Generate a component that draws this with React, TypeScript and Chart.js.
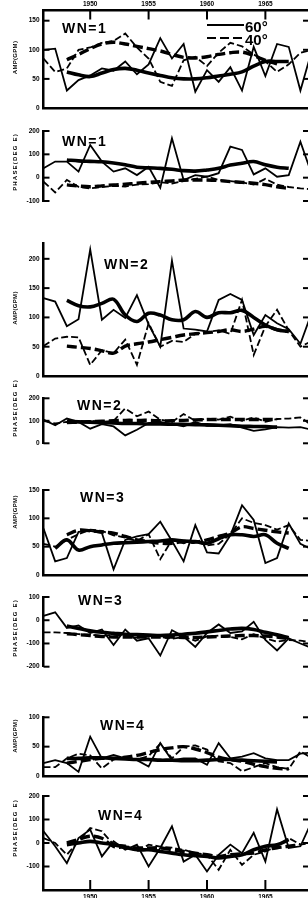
import React, { useEffect, useRef } from 'react';
import { Chart, registerables } from 'chart.js';
Chart.register(...registerables);

// ---------------- data ----------------
const years = [1946, 1947, 1948, 1949, 1950, 1951, 1952, 1953, 1954, 1955, 1956, 1957, 1958, 1959, 1960, 1961, 1962, 1963, 1964, 1965, 1966, 1967, 1968, 1969];
const yearTicks = [1950, 1955, 1960, 1965];
const N = null;

// WN=1 amplitude (gpm)
const amp1_60 = [100, 102, 30, 48, 56, 68, 64, 80, 58, 75, 120, 85, 110, 28, 65, 45, 70, 30, 105, 55, 110, 105, 30, 100];
const amp1_60s = [N, N, 62, 57, 54, 60, 66, 68, 65, 60, 56, 52, 50, 50, 52, 55, 58, 62, 72, 80, 80, 80, N, N];
const amp1_40 = [85, 62, 68, 100, 104, 112, 115, 128, 104, 85, 45, 38, 82, 88, 72, 95, 112, 106, 92, 80, 62, 75, 95, 100];
const amp1_40s = [N, N, 83, 92, 102, 110, 113, 110, 106, 102, 98, 92, 87, 86, 88, 92, 95, 96, 90, 82, 76, N, N, N];
// WN=1 phase
const ph1_60 = [40, 69, 69, 26, 140, 69, 26, 40, 11, 47, -43, 169, -10, 11, 4, 19, 133, 119, 14, 40, 4, 11, 154, 10];
const ph1_60s = [N, N, 76, 72, 70, 68, 63, 55, 45, 42, 40, 36, 30, 28, 33, 40, 54, 62, 69, 55, 45, 40, N, N];
const ph1_40 = [-17, -63, -10, -39, -46, -40, -35, -38, -30, -28, -20, -25, -15, -5, 5, -10, -15, -20, -30, -5, -30, -40, -46, -50];
const ph1_40s = [N, N, -31, -36, -39, -35, -31, -28, -24, -20, -17, -14, -10, -10, -10, -12, -17, -20, -24, -30, -39, -46, N, N];
// WN=2 amplitude
const amp2_60 = [133, 127, 85, 97, 216, 96, 113, 99, 138, 88, 50, 197, 81, 79, 76, 130, 140, 130, 70, 104, 90, 80, 55, 110];
const amp2_60s = [N, N, 129, 120, 118, 124, 131, 104, 93, 107, 104, 96, 96, 110, 100, 108, 108, 112, 100, 87, 79, 76, N, N];
const amp2_40 = [51, 64, 67, 66, 19, 44, 39, 62, 19, 90, 50, 60, 58, 72, 75, 78, 72, 130, 36, 85, 113, 78, 50, 60];
const amp2_40s = [N, N, 51, 49, 47, 43, 39, 51, 55, 58, 62, 66, 70, 72, 74, 76, 79, 76, 80, 85, 79, 76, N, N];
// WN=2 phase
const ph2_60 = [105, 80, 110, 95, 65, 85, 75, 35, 60, 90, 95, 85, 75, 95, 78, 80, 85, 70, 55, 62, 72, 70, 72, 60];
const ph2_60s = [N, N, 98, 96, 94, 92, 90, 88, 88, 86, 86, 85, 84, 83, 82, 80, 78, 76, 75, 74, 72, N, N, N];
const ph2_40 = [100, 88, 95, 92, 100, 95, 100, 155, 120, 141, 105, 95, 130, 100, 110, 105, 118, 100, 115, 96, 108, 110, 115, 80];
const ph2_40s = [N, N, 92, 94, 96, 98, 100, 102, 102, 102, 100, 100, 102, 104, 105, 106, 106, 106, 106, 106, 106, N, N, N];
// WN=3 amplitude
const amp3_60 = [82, 24, 30, 76, 78, 74, 10, 62, 68, 72, 94, 60, 24, 88, 40, 38, 70, 123, 97, 21, 30, 91, 55, 45];
const amp3_60s = [N, 47, 62, 44, 50, 53, 56, 57, 58, 59, 60, 62, 60, 59, 56, 64, 71, 71, 68, 71, 56, 47, N, N];
const amp3_40 = [55, 50, 62, 72, 80, 78, 70, 66, 60, 72, 28, 62, 56, 60, 52, 55, 72, 100, 92, 88, 80, 88, 62, 60];
const amp3_40s = [N, N, 71, 79, 78, 76, 74, 68, 62, 59, 56, 56, 59, 58, 62, 68, 74, 85, 82, 79, 76, 74, N, N];
// WN=3 phase
const ph3_60 = [19, 34, -33, -22, -55, -40, -107, -40, -88, -78, -152, -43, -70, -115, -55, -18, -55, -48, -7, -85, -130, -78, -100, -120];
const ph3_60s = [N, N, -25, -35, -45, -52, -56, -60, -62, -64, -66, -64, -60, -56, -50, -44, -38, -35, -40, -52, -63, -75, N, N];
const ph3_40 = [-52, -52, -55, -60, -62, -68, -62, -70, -75, -70, -72, -80, -72, -88, -70, -66, -72, -82, -60, -78, -92, -85, -88, -95];
const ph3_40s = [N, N, -58, -62, -66, -70, -72, -72, -72, -72, -72, -72, -74, -74, -72, -70, -68, -66, -66, -68, -72, -80, N, N];
// WN=4 amplitude
const amp4_60 = [22, 27, 22, 7, 67, 30, 36, 30, 27, 16, 56, 27, 30, 30, 19, 56, 30, 33, 39, 30, 27, 27, 38, 40];
const amp4_60s = [N, N, 30, 30, 31, 31, 30, 29, 28, 28, 27, 27, 26, 26, 27, 28, 28, 27, 26, 25, 24, N, N, N];
const amp4_40 = [15, 15, 30, 38, 35, 13, 28, 32, 28, 34, 55, 30, 50, 52, 45, 25, 22, 8, 15, 22, 15, 12, 42, 30];
const amp4_40s = [N, N, 22, 25, 28, 30, 30, 32, 35, 40, 45, 48, 50, 46, 40, 32, 28, 25, 20, 16, 13, 12, N, N];
// WN=4 phase
const ph4_60 = [50, -14, -86, 21, 57, -57, 7, -29, -7, -100, -21, 71, -79, -50, -121, -50, -7, -43, 43, -79, 143, -21, -14, 95];
const ph4_60s = [N, N, -7, 0, 7, 0, -7, -18, -29, -29, -36, -43, -50, -54, -57, -64, -57, -50, -29, -14, -7, 14, N, N];
const ph4_40 = [21, 0, -50, 7, 64, 50, -7, -10, -36, -7, -15, -20, -29, -43, -50, -114, -29, -93, -50, -36, -14, 21, -7, 0];
const ph4_40s = [N, N, 0, 15, 29, 20, -14, -18, -21, -21, -21, -28, -36, -43, -50, -57, -50, -46, -43, -29, -20, -14, -7, N];

// tick labels
const ampTicks1 = [0, 50, 100, 150];
const phTicks1 = [-100, 0, 100, 200];
const ampTicks2 = [0, 50, 100, 150, 200];
const phTicks2 = [0, 100, 200];
const ampTicks3 = [0, 50, 100, 150];
const phTicks3 = [-200, -100, 0, 100];
const ampTicks4 = [0, 50, 100];
const phTicks4 = [-100, 0, 100, 200];

const AMP_TITLE = 'AMP(GPM)';
const PH_TITLE = 'PHASE(DEG E)';

// ---------------- layout ----------------
const W = 308;
const H = 898;
const AXIS_X = 43.5;
const X_MIN = 1946;
const X_MAX = 1968.65;
const FONT = '"Liberation Sans", Arial, sans-serif';

type Panel = {
  wn: string; title: string; series: (number | null)[][];
  min: number; max: number; ticks: number[];
  top: number; bottom: number;
  wnX: number; wnY: number; titleY: number;
  bottomLine: boolean; topAxis?: boolean; bottomLabels?: boolean; legend?: boolean;
};

const panels: Panel[] = [
  { wn: 'WN=1', title: AMP_TITLE, series: [amp1_60, amp1_60s, amp1_40, amp1_40s], min: 0, max: 167.5, ticks: ampTicks1, top: 10.5, bottom: 108, wnX: 62, wnY: 33, titleY: 57.5, bottomLine: true, topAxis: true, legend: true },
  { wn: 'WN=1', title: PH_TITLE, series: [ph1_60, ph1_60s, ph1_40, ph1_40s], min: -100, max: 200, ticks: phTicks1, top: 131, bottom: 201, wnX: 62, wnY: 146, titleY: 162, bottomLine: false },
  { wn: 'WN=2', title: AMP_TITLE, series: [amp2_60, amp2_60s, amp2_40, amp2_40s], min: 0, max: 227, ticks: ampTicks2, top: 243, bottom: 376, wnX: 104, wnY: 269, titleY: 308, bottomLine: true },
  { wn: 'WN=2', title: PH_TITLE, series: [ph2_60, ph2_60s, ph2_40, ph2_40s], min: 0, max: 200, ticks: phTicks2, top: 398.3, bottom: 443.3, wnX: 77, wnY: 410, titleY: 408, bottomLine: false },
  { wn: 'WN=3', title: AMP_TITLE, series: [amp3_60, amp3_60s, amp3_40, amp3_40s], min: 0, max: 150, ticks: ampTicks3, top: 490, bottom: 575, wnX: 80, wnY: 502, titleY: 512, bottomLine: true },
  { wn: 'WN=3', title: PH_TITLE, series: [ph3_60, ph3_60s, ph3_40, ph3_40s], min: -200, max: 100, ticks: phTicks3, top: 597, bottom: 666.7, wnX: 78, wnY: 605, titleY: 628, bottomLine: false },
  { wn: 'WN=4', title: AMP_TITLE, series: [amp4_60, amp4_60s, amp4_40, amp4_40s], min: 0, max: 100, ticks: ampTicks4, top: 717.3, bottom: 776, wnX: 100, wnY: 730, titleY: 736, bottomLine: true },
  { wn: 'WN=4', title: PH_TITLE, series: [ph4_60, ph4_60s, ph4_40, ph4_40s], min: -200, max: 200, ticks: phTicks4, top: 796, bottom: 890, wnX: 98, wnY: 820, titleY: 828, bottomLine: true, bottomLabels: true },
];

const seriesStyle = [
  { borderWidth: 1.8, borderDash: [] as number[], tension: 0 },
  { borderWidth: 3.6, borderDash: [] as number[], tension: 0.35 },
  { borderWidth: 1.8, borderDash: [7, 3], tension: 0 },
  { borderWidth: 3.4, borderDash: [10, 4], tension: 0.35 },
];

function decoPlugin(p: Panel) {
  return {
    id: 'deco',
    afterDraw(chart: any) {
      const { ctx, chartArea: a, scales } = chart;
      const ys = scales.y;
      ctx.save();
      ctx.strokeStyle = '#000';
      ctx.fillStyle = '#000';
      ctx.lineWidth = 2;
      ctx.setLineDash([]);
      const line = (x1: number, y1: number, x2: number, y2: number) => {
        ctx.beginPath(); ctx.moveTo(x1, y1); ctx.lineTo(x2, y2); ctx.stroke();
      };
      // inward y ticks and marks at right edge
      p.ticks.forEach((v) => {
        const py = ys.getPixelForValue(v);
        line(a.left, py, a.left + 6, py);
        line(a.right - 5, py, a.right, py);
      });
      if (p.topAxis) {
        const xs = scales.xTop;
        yearTicks.forEach((v) => { const px = xs.getPixelForValue(v); line(px, a.top, px, a.top + 9); });
      }
      if (p.bottomLabels) {
        const xs = scales.x;
        yearTicks.forEach((v) => { const px = xs.getPixelForValue(v); line(px, a.bottom, px, a.bottom - 10); });
      }
      // WN label
      ctx.textAlign = 'left';
      ctx.textBaseline = 'alphabetic';
      ctx.font = `bold 14px ${FONT}`;
      (ctx as any).letterSpacing = '1.5px';
      ctx.fillText(p.wn, p.wnX, p.wnY);
      // legend
      if (p.legend) {
        (ctx as any).letterSpacing = '0px';
        ctx.lineWidth = 2.2;
        line(207, 25, 244, 25);
        ctx.setLineDash([9, 4]);
        line(207, 38, 243, 38);
        ctx.setLineDash([]);
        ctx.font = `bold 15px ${FONT}`;
        ctx.fillText('60°', 245, 32);
        ctx.fillText('40°', 245, 45);
      }
      // y title
      (ctx as any).letterSpacing = p.title === PH_TITLE ? '1.2px' : '0.3px';
      ctx.translate(15.5, p.titleY);
      ctx.rotate(-Math.PI / 2);
      ctx.textAlign = 'center';
      ctx.textBaseline = 'middle';
      ctx.font = `bold 6px ${FONT}`;
      ctx.fillText(p.title, 0, 0);
      ctx.restore();
    },
  };
}

function buildConfig(p: Panel): any {
  const tickFont = { size: 6.5, weight: 'bold', family: FONT };
  const scales: any = {
    x: {
      type: 'linear', position: 'bottom', min: X_MIN, max: X_MAX,
      afterFit: (s: any) => { s.height = H - p.bottom; },
      afterBuildTicks: (s: any) => { s.ticks = yearTicks.map((v) => ({ value: v })); },
      grid: { display: false, drawTicks: false },
      border: { display: p.bottomLine, color: '#000', width: 2.5 },
      ticks: { display: !!p.bottomLabels, color: '#000', font: tickFont, padding: 3, maxRotation: 0, callback: (v: any) => String(v) },
    },
    y: {
      type: 'linear', position: 'left', min: p.min, max: p.max,
      afterFit: (s: any) => { s.width = AXIS_X; },
      afterBuildTicks: (s: any) => { s.ticks = p.ticks.map((v) => ({ value: v })); },
      grid: { display: false, drawTicks: false },
      border: { display: true, color: '#000', width: 2.5 },
      ticks: { color: '#000', font: tickFont, padding: 4, callback: (v: any) => String(v) },
    },
  };
  if (p.topAxis) {
    scales.xTop = {
      type: 'linear', position: 'top', min: X_MIN, max: X_MAX,
      afterFit: (s: any) => { s.height = p.top; },
      afterBuildTicks: (s: any) => { s.ticks = yearTicks.map((v) => ({ value: v })); },
      grid: { display: false, drawTicks: false },
      border: { display: true, color: '#000', width: 2.5 },
      ticks: { color: '#000', font: tickFont, padding: 2, maxRotation: 0, callback: (v: any) => String(v) },
    };
  }
  return {
    type: 'line',
    data: {
      datasets: p.series.map((arr, i) => ({
        data: years.map((x, j) => ({ x, y: arr[j] })),
        borderColor: '#000',
        backgroundColor: '#000',
        borderWidth: seriesStyle[i].borderWidth,
        borderDash: seriesStyle[i].borderDash,
        tension: seriesStyle[i].tension,
        pointRadius: 0,
        fill: false,
        spanGaps: false,
      })),
    },
    options: {
      animation: false,
      responsive: false,
      maintainAspectRatio: false,
      events: [],
      layout: { padding: { top: p.topAxis ? 0 : p.top, left: 0, right: 0, bottom: 0 } },
      plugins: { legend: { display: false }, tooltip: { enabled: false }, title: { display: false } },
      scales,
    },
    plugins: [decoPlugin(p)],
  };
}

function PanelChart({ p }: { p: Panel }) {
  const ref = useRef<HTMLCanvasElement>(null);
  useEffect(() => {
    if (!ref.current) return;
    const chart = new Chart(ref.current, buildConfig(p));
    return () => chart.destroy();
  }, [p]);
  return (
    <canvas
      ref={ref}
      width={W}
      height={H}
      style={{ position: 'absolute', left: 0, top: 0, width: W, height: H }}
    />
  );
}

export default function App() {
  return (
    <div style={{ position: 'absolute', left: 0, top: 0, width: W, height: H, background: '#fff', overflow: 'hidden' }}>
      {panels.map((p, i) => (
        <PanelChart key={i} p={p} />
      ))}
    </div>
  );
}
